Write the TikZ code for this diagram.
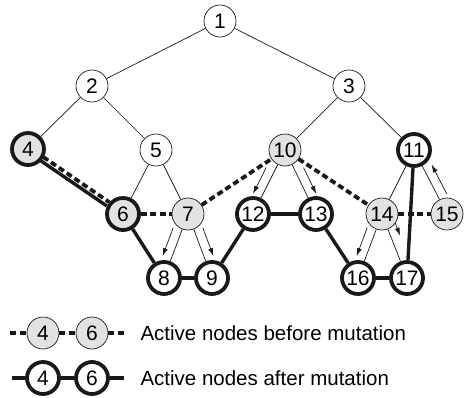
\documentclass[tikz,border=0pt]{standalone}
\usepackage{fontspec}
\setmainfont{Liberation Sans}
\usetikzlibrary{arrows.meta, calc}
\definecolor{ink}{RGB}{25,25,25}
\definecolor{actgray}{RGB}{226,226,226}
\tikzset{
  vtx/.style={circle,draw=ink,fill=white,minimum size=32pt,inner sep=0pt,
    line width=0.7pt,font=\fontsize{21}{21}\selectfont},
  oldvtx/.style={vtx,fill=actgray},
  newvtx/.style={vtx,line width=3.8pt},
  bothvtx/.style={newvtx,fill=actgray},
  tree/.style={line width=0.7pt,color=ink},
  before/.style={line width=3.8pt,color=ink,dash pattern=on 6pt off 3.5pt},
  after/.style={line width=3.4pt,color=ink},
  flow/.style={-{Latex[length=8pt,width=5pt]},line width=0.7pt,color=ink},
  legtext/.style={anchor=west,font=\fontsize{20.5}{20.5}\selectfont}
}

\begin{document}
\begin{tikzpicture}[x=1pt,y=-1pt]
  \useasboundingbox (0,0) rectangle (464,397);

  % Tree nodes
  \node[vtx] (n1) at (220,21) {1};
  \node[vtx] (n2) at (92,86) {2};
  \node[vtx] (n3) at (349,86) {3};
  \node[bothvtx] (n4) at (28,149) {4};
  \node[vtx] (n5) at (156,150) {5};
  \node[oldvtx] (n10) at (285,150) {10};
  \node[newvtx] (n11) at (414,150) {11};
  \node[bothvtx] (n6) at (123,214) {6};
  \node[oldvtx] (n7) at (188,214) {7};
  \node[newvtx] (n12) at (253,214) {12};
  \node[newvtx] (n13) at (316,214) {13};
  \node[oldvtx] (n14) at (382,214) {14};
  \node[oldvtx] (n15) at (447,214) {15};
  \node[newvtx] (n8) at (164,278) {8};
  \node[newvtx] (n9) at (212,278) {9};
  \node[newvtx] (n16) at (358,278) {16};
  \node[newvtx] (n17) at (407,278) {17};

  % Tree edges
  \draw[tree] (n1) -- (n2);
  \draw[tree] (n1) -- (n3);
  \draw[tree] (n2) -- (n4);
  \draw[tree] (n2) -- (n5);
  \draw[tree] (n3) -- (n10);
  \draw[tree] (n3) -- (n11);
  \draw[tree] (n5) -- (n6);
  \draw[tree] (n5) -- (n7);
  \draw[tree] (n7) -- (n8);
  \draw[tree] (n7) -- (n9);
  \draw[tree] (n10) -- (n12);
  \draw[tree] (n10) -- (n13);
  \draw[tree] (n11) -- (n14);
  \draw[tree] (n11) -- (n15);
  \draw[tree] (n14) -- (n16);
  \draw[tree] (n14) -- (n17);

  % Mutation moves
  \draw[flow] ($(n7)!18pt!(n8)!9pt!-90:(n8)$) -- ($(n8)!20pt!(n7)!9pt!90:(n7)$);
  \draw[flow] ($(n7)!18pt!(n9)!9pt!90:(n9)$) -- ($(n9)!20pt!(n7)!9pt!-90:(n7)$);
  \draw[flow] ($(n10)!24pt!(n12)!9pt!-90:(n12)$) -- ($(n12)!18pt!(n10)!9pt!90:(n10)$);
  \draw[flow] ($(n10)!24pt!(n13)!9pt!90:(n13)$) -- ($(n13)!18pt!(n10)!9pt!-90:(n10)$);
  \draw[flow] ($(n14)!18pt!(n16)!9pt!-90:(n16)$) -- ($(n16)!20pt!(n14)!9pt!90:(n14)$);
  \draw[flow] ($(n14)!13pt!(n17)!9pt!90:(n17)$) -- ($(n17)!42pt!(n14)!9pt!-90:(n14)$);
  \draw[flow] ($(n15)!18pt!(n11)!9pt!-90:(n11)$) -- ($(n11)!21pt!(n15)!9pt!90:(n15)$);

  % Active nodes before mutation
  \draw[before] ($(n4)!17pt!(n6)!2pt!90:(n6)$) -- ($(n6)!18pt!(n4)!2pt!-90:(n4)$);
  \draw[before] (n6) -- (n7);
  \draw[before] (n7) -- (n10);
  \draw[before] (n10) -- (n14);
  \draw[before] (n14) -- (n15);

  % Active nodes after mutation
  \draw[after] ($(n4)!17pt!(n6)!2.5pt!-90:(n6)$) -- ($(n6)!18pt!(n4)!2.5pt!90:(n4)$);
  \draw[after] (n6) -- (n8);
  \draw[after] (n8) -- (n9);
  \draw[after] (n9) -- (n12);
  \draw[after] (n12) -- (n13);
  \draw[after] (n13) -- (n16);
  \draw[after] (n16) -- (n17);
  \draw[after] (n17) -- (n11);

  % Legend
  \coordinate (ba) at (10,333);
  \coordinate (bb) at (124,333);
  \node[oldvtx] (b4) at (43,333) {4};
  \node[oldvtx] (b6) at (92,333) {6};
  \draw[before] (ba) -- (b4);
  \draw[before] (b4) -- (b6);
  \draw[before] (b6) -- (bb);
  \node[legtext] (bt) at (137,333) {Active nodes before mutation};

  \coordinate (aa) at (12,378);
  \coordinate (ab) at (124,378);
  \node[newvtx] (a4) at (43,378) {4};
  \node[newvtx] (a6) at (92,378) {6};
  \draw[after] (aa) -- (a4);
  \draw[after] (a4) -- (a6);
  \draw[after] (a6) -- (ab);
  \node[legtext] (at) at (137,378) {Active nodes after mutation};
\end{tikzpicture}
\end{document}
